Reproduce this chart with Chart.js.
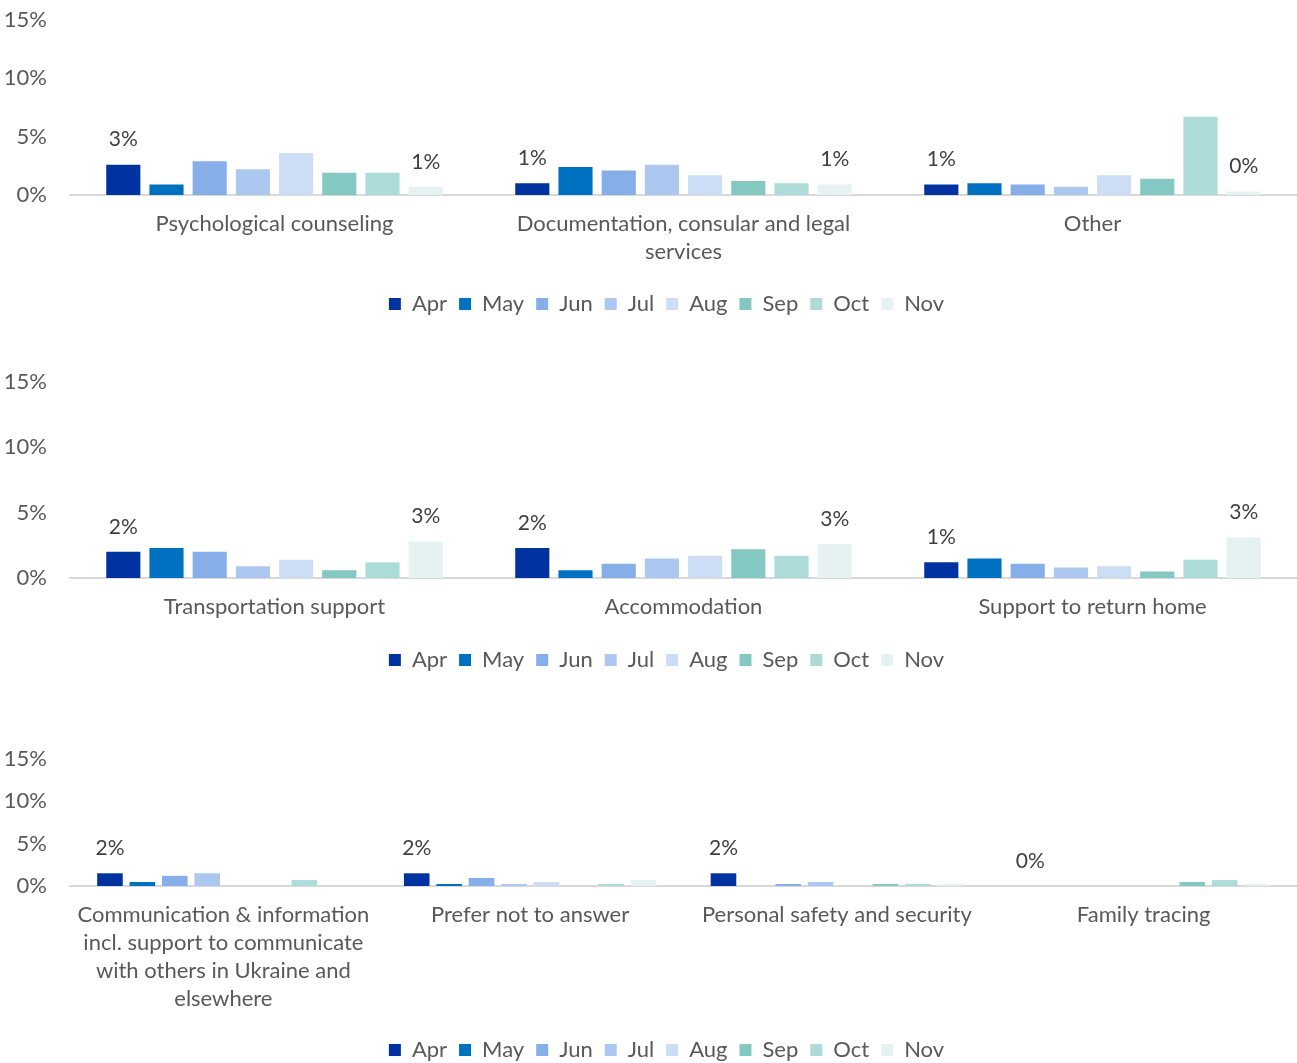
<!DOCTYPE html>
<html>
<head>
<meta charset="utf-8">
<script src="https://cdn.jsdelivr.net/npm/chart.js@4.4.1/dist/chart.umd.min.js"></script>
<style>
html,body{margin:0;padding:0;background:#fff;overflow:hidden;width:1297px;height:1063px;}
.panel{position:absolute;left:0;width:1297px;}
canvas{display:block;}
</style>
</head>
<body>
<div class="panel" style="top:0px;height:325px"><canvas id="c1" width="1297" height="325"></canvas></div>
<div class="panel" style="top:362px;height:319px"><canvas id="c2" width="1297" height="319"></canvas></div>
<div class="panel" style="top:739px;height:332px"><canvas id="c3" width="1297" height="332"></canvas></div>
<script>
// ---- data ----
const months = ['Apr', 'May', 'Jun', 'Jul', 'Aug', 'Sep', 'Oct', 'Nov'];
const monthColors = ['#0033A0', '#0070C0', '#86AEE8', '#ADC8F0', '#CCDDF5', '#84C9C1', '#ADDCD8', '#E6F2F2'];
const yTicks = [0, 5, 10, 15];

const panel1Categories = ['Psychological counseling', ['Documentation, consular and legal', 'services'], 'Other'];
const psychological = [2.6, 0.9, 2.9, 2.2, 3.6, 1.9, 1.9, 0.7];
const documentation = [1.0, 2.4, 2.1, 2.6, 1.7, 1.2, 1.0, 0.9];
const other = [0.9, 1.0, 0.9, 0.7, 1.7, 1.4, 6.7, 0.3];

const panel2Categories = ['Transportation support', 'Accommodation', 'Support to return home'];
const transportation = [2.0, 2.3, 2.0, 0.9, 1.4, 0.6, 1.2, 2.8];
const accommodation = [2.3, 0.6, 1.1, 1.5, 1.7, 2.2, 1.7, 2.6];
const returnHome = [1.2, 1.5, 1.1, 0.8, 0.9, 0.5, 1.4, 3.1];

const panel3Categories = [
  ['Communication & information', 'incl. support to communicate', 'with others in Ukraine and', 'elsewhere'],
  'Prefer not to answer', 'Personal safety and security', 'Family tracing'];
const communication = [1.5, 0.47, 1.2, 1.5, 0, 0, 0.7, 0];
const preferNot = [1.5, 0.24, 0.95, 0.24, 0.47, 0, 0.24, 0.7];
const personalSafety = [1.5, 0, 0.24, 0.47, 0, 0.24, 0.24, 0.24];
const familyTracing = [0, 0, 0, 0, 0, 0.47, 0.7, 0.24];

// ---- rendering ----
Chart.defaults.font.family = 'Lato, "Open Sans", sans-serif';
Chart.defaults.color = '#595959';

const valueLabels = {
  id: 'valueLabels',
  afterDatasetsDraw(chart, args, opts) {
    const ctx = chart.ctx;
    ctx.save();
    ctx.font = '21px Lato, sans-serif';
    ctx.fillStyle = '#404040';
    ctx.textAlign = 'center';
    ctx.textBaseline = 'middle';
    (opts.series || []).forEach(di => {
      const meta = chart.getDatasetMeta(di);
      meta.data.forEach((bar, j) => {
        const v = chart.data.datasets[di].data[j];
        ctx.fillText(Math.round(v) + '%', bar.x, bar.y - 25);
      });
    });
    ctx.restore();
  }
};

const shiftLegend = {
  id: 'shiftLegend',
  afterLayout(chart) {
    const l = chart.legend;
    if (l) { l.left += 18; l.right += 18; }
  }
};

function makeChart(id, categories, series, labeled, xHeight) {
  const datasets = months.map((m, i) => ({
    label: m,
    data: series.map(s => s[i]),
    backgroundColor: monthColors[i],
    borderWidth: 0,
    categoryPercentage: 0.845,
    barPercentage: 0.79
  }));
  return new Chart(document.getElementById(id), {
    type: 'bar',
    data: { labels: categories, datasets },
    plugins: [valueLabels, shiftLegend],
    options: {
      responsive: false,
      animation: false,
      devicePixelRatio: 1,
      layout: { padding: { left: 0, top: 20, right: 0, bottom: 0 } },
      plugins: {
        legend: {
          position: 'bottom',
          labels: { boxWidth: 12, boxHeight: 12, padding: 12, color: '#595959', font: { size: 22 } }
        },
        tooltip: { enabled: false },
        valueLabels: { series: labeled }
      },
      scales: {
        x: {
          grid: { display: false, drawTicks: false },
          border: { display: true, color: '#d9d9d9', width: 2 },
          ticks: { color: '#595959', font: { size: 22, lineHeight: 1.27 }, padding: 15, maxRotation: 0, autoSkip: false },
          afterFit(s) { s.height = xHeight; s.paddingLeft = 0; s.paddingRight = 0; }
        },
        y: {
          min: yTicks[0],
          max: yTicks[yTicks.length - 1],
          afterBuildTicks(s) { s.ticks = yTicks.map(v => ({ value: v })); },
          ticks: { callback: v => v + '%', color: '#595959', font: { size: 22 }, padding: 23 },
          grid: { display: false, drawTicks: false },
          border: { display: false },
          afterFit(s) { s.width = 70; s.paddingTop = 0; s.paddingBottom = 0; }
        }
      }
    }
  });
}

makeChart('c1', panel1Categories, [psychological, documentation, other], [0, 7], 86);
makeChart('c2', panel2Categories, [transportation, accommodation, returnHome], [0, 7], 59);
makeChart('c3', panel3Categories, [communication, preferNot, personalSafety, familyTracing], [0], 141);
</script>
</body>
</html>
